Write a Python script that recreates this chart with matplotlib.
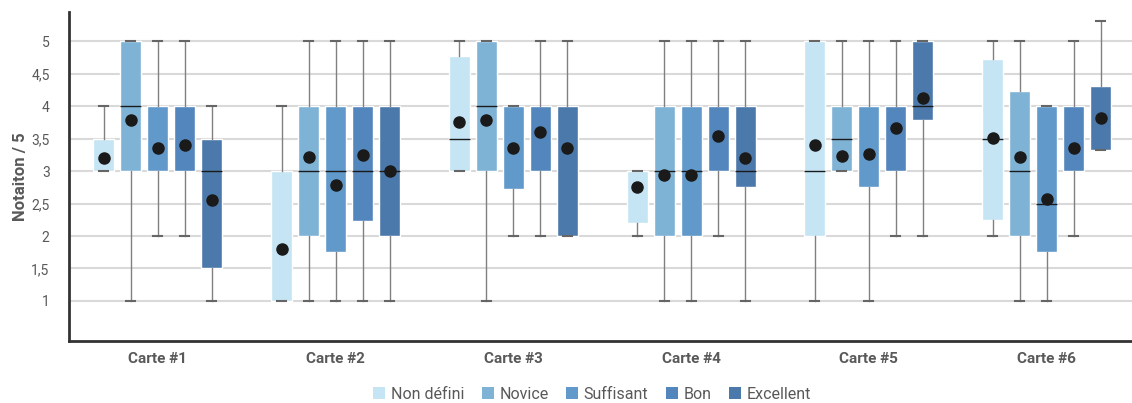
import matplotlib

matplotlib.use("Agg")
import matplotlib.pyplot as plt
from matplotlib.patches import Patch
from matplotlib.ticker import FuncFormatter

plt.rcParams["font.family"] = ["Roboto", "DejaVu Sans"]

cards = ["Carte #1", "Carte #2", "Carte #3", "Carte #4", "Carte #5", "Carte #6"]
levels = ["Non défini", "Novice", "Suffisant", "Bon", "Excellent"]
colors = ["#c5e4f4", "#7fb3d6", "#6199ca", "#5386bd", "#4c79ab"]

# one row per card, one value per level
whis_lo = [
    [3, 1, 2, 2, 1],
    [1, 1, 1, 1, 1],
    [3, 1, 2, 2, 2],
    [2, 1, 1, 2, 1],
    [1, 3, 1, 2, 2],
    [2, 1, 1, 2, 3.33],
]
q1 = [
    [3, 3, 3, 3, 1.5],
    [1, 2, 1.75, 2.23, 2],
    [3, 3, 2.72, 3, 2],
    [2.2, 2, 2, 3, 2.75],
    [2, 3, 2.75, 3, 3.78],
    [2.24, 2, 1.75, 3, 3.33],
]
medians = [
    [3, 4, 3, 3, 3],
    [1, 3, 3, 3, 3],
    [3.5, 4, 4, 3, 2],
    [3, 3, 3, 3, 3],
    [3, 3.5, 4, 3, 4],
    [3.5, 3, 2.5, 3, 3.33],
]
q3 = [
    [3.5, 5, 4, 4, 3.5],
    [3, 4, 4, 4, 4],
    [4.77, 5, 4, 4, 4],
    [3, 4, 4, 4, 4],
    [5, 4, 4, 4, 5],
    [4.73, 4.24, 4, 4, 4.31],
]
whis_hi = [
    [4, 5, 5, 5, 4],
    [4, 5, 5, 5, 5],
    [5, 5, 4, 5, 5],
    [3, 5, 5, 5, 5],
    [5, 5, 5, 5, 5],
    [5, 5, 4, 5, 5.32],
]
means = [
    [3.20, 3.78, 3.35, 3.40, 2.55],
    [1.80, 3.22, 2.78, 3.25, 3.00],
    [3.75, 3.78, 3.35, 3.61, 3.35],
    [2.76, 2.94, 2.94, 3.54, 3.20],
    [3.40, 3.23, 3.27, 3.67, 4.12],
    [3.51, 3.22, 2.57, 3.36, 3.82],
]

fig = plt.figure(figsize=(11.32, 4.03), dpi=100)
ax = fig.add_axes([0.061, 0.155, 0.942, 0.815])

step = 0.152
for j, level in enumerate(levels):
    stats = []
    positions = []
    for i in range(len(cards)):
        stats.append(
            {
                "whislo": whis_lo[i][j],
                "q1": q1[i][j],
                "med": medians[i][j],
                "q3": q3[i][j],
                "whishi": whis_hi[i][j],
                "mean": means[i][j],
                "fliers": [],
            }
        )
        positions.append(i + 1 + (j - 2) * step)
    parts = ax.bxp(
        stats,
        positions=positions,
        widths=0.118,
        capwidths=0.05,
        patch_artist=True,
        showmeans=True,
        showfliers=False,
        boxprops=dict(facecolor=colors[j], edgecolor="white", linewidth=1),
        whiskerprops=dict(color="#808080", linewidth=1),
        capprops=dict(color="#666666", linewidth=1.5),
        medianprops=dict(color="#1a1a1a", linewidth=1),
        meanprops=dict(marker="o", markerfacecolor="#1a1a1a",
                       markeredgecolor="#1a1a1a", markersize=8),
        zorder=3,
    )
    # a median sitting on the box edge is not drawn in the original
    for line, s in zip(parts["medians"], stats):
        if s["med"] in (s["q1"], s["q3"]):
            line.set_visible(False)

ax.set_xlim(0.5, 6.5)
ax.set_ylim(0.39, 5.45)
ax.set_xticks(range(1, len(cards) + 1))
ax.set_xticklabels(cards, fontsize=11, fontweight="bold", color="#595959")
ax.set_yticks([1, 1.5, 2, 2.5, 3, 3.5, 4, 4.5, 5])
ax.yaxis.set_major_formatter(
    FuncFormatter(lambda v, p: ("%g" % v).replace(".", ","))
)
ax.tick_params(axis="y", length=0, labelsize=10, labelcolor="#595959", pad=14)
ax.tick_params(axis="x", length=0, pad=8)
ax.grid(axis="y", color="#d9d9d9", linewidth=1.5, zorder=0)
ax.set_axisbelow(True)
for side in ["top", "right"]:
    ax.spines[side].set_visible(False)
for side in ["left", "bottom"]:
    ax.spines[side].set_color("#333333")
    ax.spines[side].set_linewidth(2)
ax.set_ylabel("Notaiton / 5", fontsize=12, fontweight="bold", color="#595959",
              labelpad=2)

handles = [Patch(facecolor=c, edgecolor="none") for c in colors]
fig.legend(handles, levels, loc="center", bbox_to_anchor=(0.523, 0.022),
           ncol=5, frameon=False, fontsize=11.5, labelcolor="#595959",
           handlelength=0.75, handleheight=0.75, handletextpad=0.35,
           columnspacing=1.1)

fig.savefig("out.png", dpi=100)
